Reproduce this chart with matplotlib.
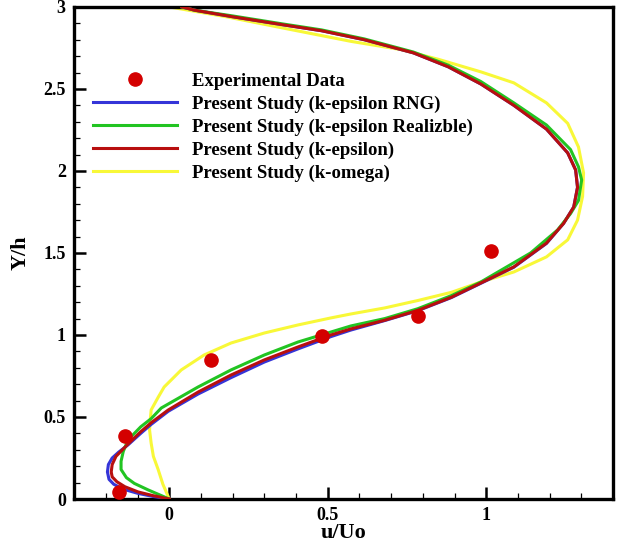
import matplotlib
matplotlib.use("Agg")
import matplotlib.pyplot as plt
from matplotlib.ticker import MultipleLocator, FixedLocator

plt.rcParams['font.family'] = ['Liberation Serif', 'DejaVu Serif']
plt.rcParams['font.weight'] = 'bold'
plt.rcParams['axes.labelweight'] = 'bold'

# Experimental data
exp_x = [-0.16, -0.139, 0.132, 0.483, 0.785, 1.016]
exp_y = [0.04, 0.385, 0.85, 0.996, 1.118, 1.509]

# k-epsilon RNG (blue)
rng_x = [0.0, -0.05, -0.10, -0.145, -0.175, -0.19, -0.195, -0.192, -0.18, -0.16, -0.13, -0.09,
         -0.057, -0.003, 0.091, 0.195, 0.30, 0.406, 0.51, 0.573, 0.68, 0.784, 0.89, 0.983, 1.087,
         1.19, 1.244, 1.276, 1.288, 1.282, 1.257, 1.19, 1.087, 0.983, 0.88, 0.77, 0.615, 0.48,
         0.362, 0.20, 0.08, 0.04]
rng_y = [0.0, 0.015, 0.035, 0.06, 0.09, 0.12, 0.165, 0.21, 0.25, 0.285, 0.33, 0.40,
         0.455, 0.535, 0.64, 0.74, 0.835, 0.915, 0.99, 1.03, 1.088, 1.148, 1.228, 1.315, 1.413,
         1.558, 1.68, 1.78, 1.90, 2.006, 2.11, 2.255, 2.40, 2.53, 2.635, 2.72, 2.80, 2.855,
         2.89, 2.94, 2.98, 3.0]

# k-epsilon Realizable (green)
rlz_x = [0.0, -0.066, -0.11, -0.135, -0.152, -0.152, -0.145, -0.13, -0.09, -0.057, -0.025, 0.091,
         0.195, 0.30, 0.406, 0.51, 0.573, 0.68, 0.784, 0.89, 0.983, 1.14, 1.225, 1.266, 1.291,
         1.301, 1.291, 1.266, 1.19, 1.087, 0.983, 0.88, 0.77, 0.615, 0.48, 0.362, 0.20, 0.08, 0.04]
rlz_y = [0.0, 0.055, 0.095, 0.13, 0.18, 0.23, 0.29, 0.36, 0.44, 0.49, 0.555, 0.683,
         0.787, 0.878, 0.957, 1.018, 1.055, 1.10, 1.16, 1.24, 1.323, 1.50, 1.64, 1.74, 1.82,
         1.945, 2.025, 2.13, 2.28, 2.415, 2.545, 2.645, 2.725, 2.805, 2.86, 2.895, 2.945, 2.98, 3.0]

# k-epsilon (red)
ke_x = [0.0, -0.05, -0.098, -0.14, -0.165, -0.18, -0.183, -0.18, -0.168, -0.13, -0.09, -0.057,
        -0.003, 0.091, 0.195, 0.30, 0.406, 0.51, 0.573, 0.68, 0.784, 0.89, 0.983, 1.087, 1.19,
        1.244, 1.276, 1.288, 1.282, 1.257, 1.19, 1.087, 0.983, 0.88, 0.77, 0.615, 0.48, 0.362,
        0.20, 0.08, 0.04]
ke_y = [0.0, 0.02, 0.043, 0.075, 0.105, 0.135, 0.165, 0.21, 0.26, 0.335, 0.41, 0.465,
        0.543, 0.652, 0.756, 0.848, 0.927, 1.0, 1.037, 1.09, 1.15, 1.23, 1.317, 1.415, 1.56,
        1.68, 1.78, 1.90, 2.006, 2.11, 2.255, 2.40, 2.53, 2.635, 2.72, 2.80, 2.855, 2.89,
        2.94, 2.98, 3.0]

# k-omega (yellow)
kw_x = [0.0, -0.02, -0.035, -0.05, -0.057, -0.062, -0.060, -0.057, -0.035, -0.016, 0.038, 0.11,
        0.195, 0.30, 0.406, 0.51, 0.573, 0.68, 0.784, 0.89, 0.983, 1.087, 1.19, 1.257, 1.288,
        1.304, 1.307, 1.291, 1.257, 1.19, 1.087, 0.983, 0.85, 0.73, 0.573, 0.362, 0.18, 0.0]
kw_y = [0.0, 0.09, 0.18, 0.26, 0.34, 0.42, 0.48, 0.543, 0.62, 0.683, 0.787, 0.878,
        0.951, 1.012, 1.061, 1.104, 1.128, 1.165, 1.21, 1.26, 1.323, 1.384, 1.476, 1.58, 1.70,
        1.845, 1.988, 2.146, 2.29, 2.415, 2.537, 2.604, 2.68, 2.74, 2.79, 2.87, 2.94, 3.0]

labels = ["Experimental Data", "Present Study (k-epsilon RNG)",
          "Present Study (k-epsilon Realizble)", "Present Study (k-epsilon)",
          "Present Study (k-omega)"]

x_ticks = [0, 0.5, 1]
x_ticklabels = ["0", "0.5", "1"]
y_ticks = [0, 0.5, 1, 1.5, 2, 2.5, 3]
y_ticklabels = ["0", "0.5", "1", "1.5", "2", "2.5", "3"]

fig = plt.figure(figsize=(6.23, 5.48), dpi=100)
ax = fig.add_axes([0.119, 0.0894, 0.865, 0.898])

lw = 2.2
hy, = ax.plot(kw_x, kw_y, color='#f8f838', lw=lw, zorder=2)
hb, = ax.plot(rng_x, rng_y, color='#3535d8', lw=lw, zorder=3)
hg, = ax.plot(rlz_x, rlz_y, color='#22c422', lw=lw, zorder=4)
hr, = ax.plot(ke_x, ke_y, color='#b80f0f', lw=lw, zorder=5)
he, = ax.plot(exp_x, exp_y, 'o', color='#d40000', ms=9.5, ls='none', zorder=6)

ax.set_xlim(-0.3, 1.4)
ax.set_ylim(0, 3)
ax.xaxis.set_major_locator(FixedLocator(x_ticks))
ax.set_xticklabels(x_ticklabels, fontweight='bold')
ax.yaxis.set_major_locator(FixedLocator(y_ticks))
ax.set_yticklabels(y_ticklabels, fontweight='bold')
ax.xaxis.set_minor_locator(MultipleLocator(0.1))
ax.yaxis.set_minor_locator(MultipleLocator(0.1))
ax.tick_params(which='both', direction='in', top=False, right=False, labelsize=13)
ax.tick_params(which='major', length=8.5, width=1.8, pad=6)
ax.tick_params(which='minor', length=4.5, width=0.9)
for s in ax.spines.values():
    s.set_linewidth(2.4)

ax.set_xlabel("u/Uo", fontsize=16, fontweight='bold', labelpad=-1)
ax.set_ylabel("Y/h", fontsize=16, fontweight='bold', labelpad=9)

ax.legend([he, hb, hg, hr, hy], labels, loc='upper left', bbox_to_anchor=(0.035, 0.866),
          frameon=False, borderpad=0, borderaxespad=0, handlelength=4.5,
          handletextpad=0.8, labelspacing=0.3, prop={'weight': 'bold', 'size': 13.5})

fig.savefig("out.png", dpi=100)
